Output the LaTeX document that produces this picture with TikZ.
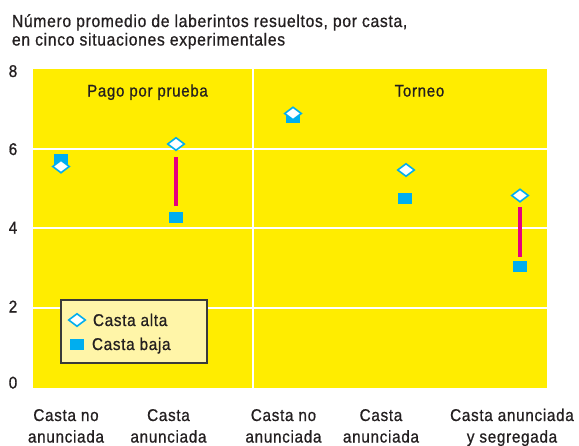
\documentclass[tikz,border=0pt]{standalone}
\usepackage{fontspec}
\setmainfont{Liberation Sans}[FakeBold=0.8, FakeStretch=0.9, LetterSpace=4]
\usetikzlibrary{shapes.geometric}
\definecolor{chartyellow}{HTML}{FFED00}
\definecolor{markcyan}{HTML}{00AEEF}
\definecolor{barpink}{HTML}{E6007E}
\definecolor{inktext}{HTML}{231F20}
\definecolor{legfill}{HTML}{FFF5A8}
\definecolor{legedge}{HTML}{3A3A3A}
\begin{document}
\begin{tikzpicture}[x=1pt,y=-1pt,
  txt/.style={inner sep=0pt, outer sep=0pt, text=inktext, font=\fontsize{17}{21}\selectfont},
  titletxt/.style={txt, font=\fontsize{17.4}{21}\selectfont},
  paneltitle/.style={txt, font=\fontsize{16.8}{20}\selectfont},
  gridline/.style={white, line width=2.8pt},
  altamark/.style={diamond, draw=markcyan, fill=white, line width=1.6pt, minimum width=16.5pt, minimum height=12.5pt, inner sep=0pt, outer sep=0pt},
  bajamark/.style={rectangle, fill=markcyan, minimum width=14pt, minimum height=11pt, inner sep=0pt, outer sep=0pt},
  errbar/.style={barpink, line width=3.2pt},
  legendbox/.style={rectangle, draw=legedge, fill=legfill, line width=1.3pt, minimum width=146pt, minimum height=63pt, inner sep=0pt}
]
\useasboundingbox (0,0) rectangle (579,445);

% title
\node[titletxt, anchor=base west] (title1) at (12,27) {Número promedio de laberintos resueltos, por casta,};
\node[titletxt, anchor=base west] (title2) at (12,45.5) {en cinco situaciones experimentales};

% plot area
\fill[chartyellow] (33,69) rectangle (547,388);
\draw[gridline] (33,149) -- (547,149);
\draw[gridline] (33,228) -- (547,228);
\draw[gridline] (33,308) -- (547,308);
\draw[gridline] (253,69) -- (253,388);

% y axis labels
\node[txt, anchor=base] (y8) at (13,77) {8};
\node[txt, anchor=base] (y6) at (13,155) {6};
\node[txt, anchor=base] (y4) at (13,233.5) {4};
\node[txt, anchor=base] (y2) at (13,312.5) {2};
\node[txt, anchor=base] (y0) at (13,388.5) {0};

% panel titles
\node[paneltitle, anchor=base] (pago) at (147.5,96.5) {Pago por prueba};
\node[paneltitle, anchor=base] (torneo) at (419.5,96.5) {Torneo};

% data: casta baja (squares)
\node[bajamark] (s1) at (61,159.5) {};
\node[bajamark] (s2) at (176,217.5) {};
\node[bajamark] (s3) at (293,117) {};
\node[bajamark] (s4) at (405,198.5) {};
\node[bajamark] (s5) at (520,266.5) {};

% data: casta alta (diamonds)
\node[altamark] (d1) at (61,166.5) {};
\node[altamark] (d2) at (176,144) {};
\node[altamark] (d3) at (293,113.5) {};
\node[altamark] (d4) at (406,170) {};
\node[altamark] (d5) at (520,195.5) {};

% difference bars
\draw[errbar, shorten <=13pt, shorten >=11.5pt] (d2.center) -- (s2.center);
\draw[errbar, shorten <=11.5pt, shorten >=9.5pt] (d5.center) -- (s5.center);

% legend
\node[legendbox] (legend) at (134,331.5) {};
\node[altamark] (legalta) at (77,320) {};
\node[bajamark] (legbaja) at (76.5,344) {};
\node[txt, anchor=base west] (legaltatxt) at (93,326) {Casta alta};
\node[txt, anchor=base west] (legbajatxt) at (92,350) {Casta baja};

% category labels
\node[txt, anchor=base] (c1a) at (66,421) {Casta no};
\node[txt, anchor=base] (c1b) at (66,442.5) {anunciada};
\node[txt, anchor=base] (c2a) at (168.5,421) {Casta};
\node[txt, anchor=base] (c2b) at (168.5,442.5) {anunciada};
\node[txt, anchor=base] (c3a) at (283.5,421) {Casta no};
\node[txt, anchor=base] (c3b) at (283.5,442.5) {anunciada};
\node[txt, anchor=base] (c4a) at (381,421) {Casta};
\node[txt, anchor=base] (c4b) at (381,442.5) {anunciada};
\node[txt, anchor=base] (c5a) at (512,421) {Casta anunciada};
\node[txt, anchor=base] (c5b) at (512,442.5) {y segregada};
\end{tikzpicture}
\end{document}
